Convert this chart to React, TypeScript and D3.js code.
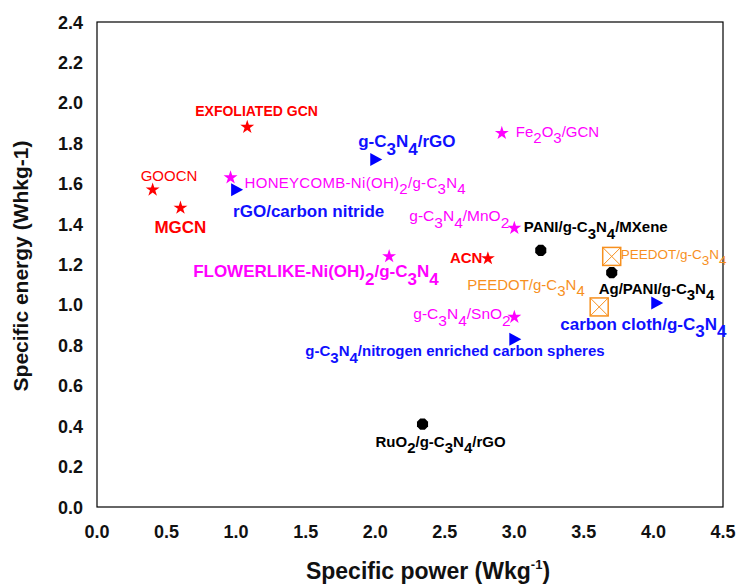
import { useMemo } from "react"
import * as d3 from "d3"

// materials, specific power (x) and specific energy (y)
const names = [
  "EXFOLIATED GCN", "GOOCN", "MGCN", "HONEYCOMB-Ni(OH)_2/g-C_3N_4", "rGO/carbon nitride",
  "g-C_3N_4/rGO", "Fe_2O_3/GCN", "FLOWERLIKE-Ni(OH)_2/g-C_3N_4", "g-C_3N_4/MnO_2", "ACN",
  "PANI/g-C_3N_4/MXene", "PEEDOT/g-C_3N_4", "Ag/PANI/g-C_3N_4", "PEEDOT/g-C_3N_4",
  "carbon cloth/g-C_3N_4", "g-C_3N_4/SnO_2", "g-C_3N_4/nitrogen enriched carbon spheres", "RuO_2/g-C_3N_4/rGO",
]
const power = [1.08, 0.40, 0.60, 0.96, 1.00, 2.00, 2.91, 2.10, 3.00, 2.81, 3.19, 3.70, 3.70, 3.61, 4.02, 3.00, 3.00, 2.34]
const energy = [1.88, 1.57, 1.48, 1.63, 1.57, 1.72, 1.85, 1.24, 1.38, 1.23, 1.27, 1.24, 1.16, 0.99, 1.01, 0.94, 0.83, 0.41]
const kinds = [
  "redStar", "redStar", "redStar", "pinkStar", "blueTri",
  "blueTri", "pinkStar", "pinkStar", "pinkStar", "redStar",
  "blackHex", "orangeBox", "blackHex", "orangeBox",
  "blueTri", "pinkStar", "blueTri", "blackHex",
]
const xTicks = [0, 0.5, 1, 1.5, 2, 2.5, 3, 3.5, 4, 4.5]
const yTicks = [0, 0.2, 0.4, 0.6, 0.8, 1.0, 1.2, 1.4, 1.6, 1.8, 2.0, 2.2, 2.4]

const RED = "#ff0000"
const PINK = "#ff00ff"
const BLUE = "#1010ff"
const ORANGE = "#f7901e"

// label placement / style, by index
const labelStyle = [
  { dx: -52, dy: -11, size: 14, bold: true, ls: 0, color: RED },
  { dx: -12, dy: -9, size: 15, bold: false, ls: 0, color: RED },
  { dx: -26, dy: 25, size: 17, bold: true, ls: 0, color: RED },
  { dx: 14, dy: 10, size: 15, bold: false, ls: 0.3, color: PINK },
  { dx: -3, dy: 27, size: 17, bold: true, ls: 0, color: BLUE },
  { dx: -17, dy: -12, size: 17, bold: true, ls: 0, color: BLUE },
  { dx: 14, dy: 4, size: 15, bold: false, ls: 0, color: PINK },
  { dx: -196, dy: 21, size: 17, bold: true, ls: 0, color: PINK },
  { dx: -105, dy: -7, size: 15.5, bold: false, ls: 0, color: PINK },
  { dx: -38, dy: 5, size: 15, bold: true, ls: 0, color: RED },
  { dx: -17, dy: -18, size: 15, bold: true, ls: 0, color: "#000" },
  { dx: 9, dy: 3, size: 13.5, bold: false, ls: 0, color: ORANGE },
  { dx: -13, dy: 21, size: 15, bold: true, ls: 0, color: "#000" },
  { dx: -132, dy: -17, size: 15, bold: false, ls: 0, color: ORANGE },
  { dx: -96, dy: 27, size: 17, bold: true, ls: 0, color: BLUE },
  { dx: -101, dy: 2, size: 15.5, bold: false, ls: 0, color: PINK },
  { dx: -209, dy: 17, size: 15, bold: true, ls: 0, color: BLUE },
  { dx: -47, dy: 23, size: 15, bold: true, ls: 0, color: "#000" },
]

const W = 739
const H = 585
const m = { left: 97, right: 16, top: 22, bottom: 78 }
const FONT = "'Liberation Sans', Arial, sans-serif"

const Label = ({ text, x, y, st }: any) => {
  const parts = text.split(/(_\d)/).filter((p: string) => p !== "")
  let sub = false
  return (
    <text x={x} y={y} fill={st.color} fontFamily={FONT} fontSize={st.size}
      fontWeight={st.bold ? "bold" : "normal"} letterSpacing={st.ls}>
      {parts.map((p: string, i: number) => {
        const isSub = p[0] === "_"
        const shift = isSub && !sub ? st.size * 0.42 : !isSub && sub ? -st.size * 0.42 : 0
        sub = isSub
        return (
          <tspan key={i} dy={shift}>{isSub ? p.slice(1) : p}</tspan>
        )
      })}
    </text>
  )
}

const Marker = ({ kind }: { kind: string }) => {
  if (kind === "redStar" || kind === "pinkStar") {
    const d = d3.symbol().type(d3.symbolStar).size(60)()
    return <path d={d || ""} fill={kind === "redStar" ? RED : PINK} />
  }
  if (kind === "blueTri") {
    return <path d="M-5,-6.5 L7,0 L-5,6.5 Z" fill="#0000ff" />
  }
  if (kind === "blackHex") {
    const pts = d3.range(8).map(i => {
      const a = (Math.PI / 4) * i + Math.PI / 8
      return [Math.cos(a) * 6, Math.sin(a) * 6]
    })
    return <polygon points={pts.map(p => p.join(",")).join(" ")} fill="#000" />
  }
  return (
    <g stroke={ORANGE} strokeWidth={1.5} fill="none">
      <rect x={-9} y={-9} width={18} height={18} />
      <path d="M-9,-9 L9,9 M9,-9 L-9,9" strokeWidth={1} />
    </g>
  )
}

const App = () => {
  const x = useMemo(() => d3.scaleLinear().domain([0, 4.5]).range([m.left, W - m.right]), [])
  const y = useMemo(() => d3.scaleLinear().domain([0, 2.4]).range([H - m.bottom, m.top]), [])

  return (
    <svg width={W} height={H} style={{ position: "absolute", left: 0, top: 0, background: "#fff" }}>
      <rect x={m.left} y={m.top} width={W - m.left - m.right} height={H - m.top - m.bottom}
        fill="none" stroke="#000" strokeWidth={1.2} />
      {yTicks.map(t => (
        <text key={t} x={m.left - 14} y={y(t) + 6.5} textAnchor="end" fontFamily={FONT}
          fontWeight="bold" fontSize={18} fill="#111">{t.toFixed(1)}</text>
      ))}
      {xTicks.map(t => (
        <text key={t} x={x(t)} y={H - m.bottom + 31} textAnchor="middle" fontFamily={FONT}
          fontWeight="bold" fontSize={18} fill="#111">{t.toFixed(1)}</text>
      ))}
      <text transform={`translate(28,266) rotate(-90)`} textAnchor="middle"
        fontFamily={FONT} fontWeight="bold" fontSize={21} fill="#111">Specific energy (Whkg-1)</text>
      <text x={428} y={579} textAnchor="middle" fontFamily={FONT} fontWeight="bold" fontSize={23} fill="#111">
        Specific power (Wkg<tspan dy={-10} fontSize={13}>-1</tspan><tspan dy={10}>)</tspan>
      </text>
      {names.map((n, i) => (
        <g key={i}>
          <g transform={`translate(${x(power[i])},${y(energy[i])})`}>
            <Marker kind={kinds[i]} />
          </g>
          <Label text={n} x={x(power[i]) + labelStyle[i].dx} y={y(energy[i]) + labelStyle[i].dy} st={labelStyle[i]} />
        </g>
      ))}
    </svg>
  )
}

export default App
